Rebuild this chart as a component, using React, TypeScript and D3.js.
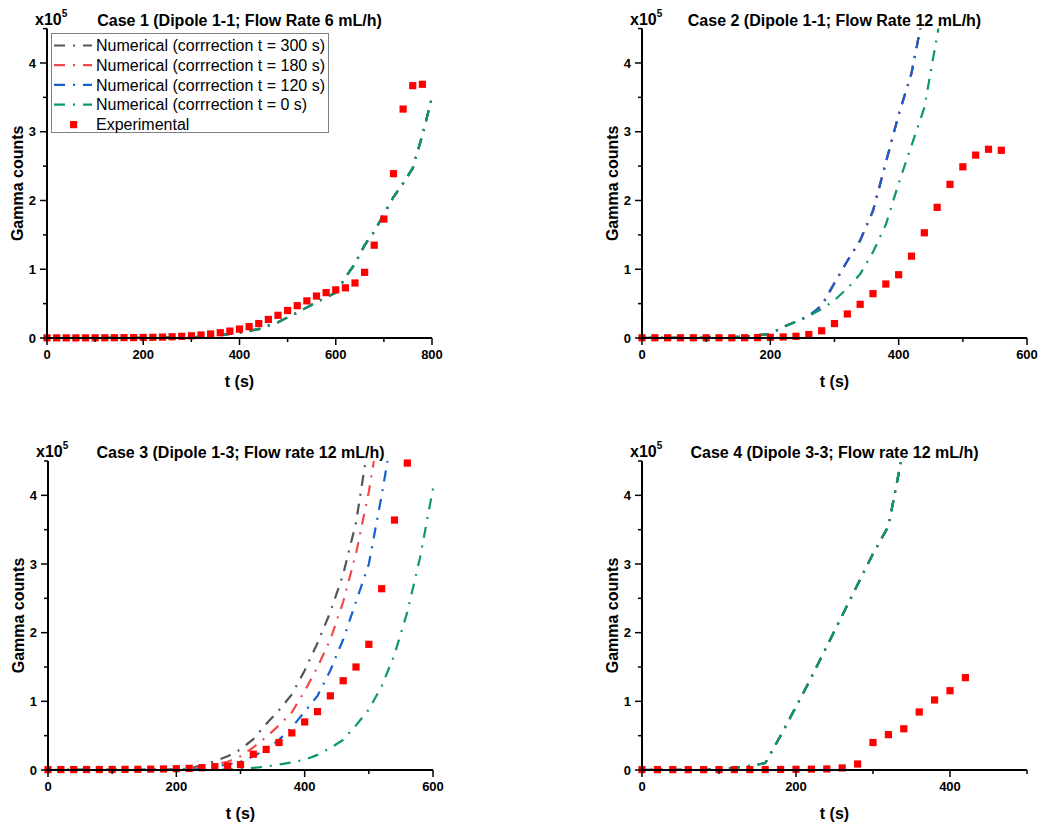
import * as d3 from 'd3';

// ---- data (counts in units of 1e5) ----
const legendLabels = [
  'Numerical (corrrection t = 300 s)',
  'Numerical (corrrection t = 180 s)',
  'Numerical (corrrection t = 120 s)',
  'Numerical (corrrection t = 0 s)',
];
const lineColors = ['#555555', '#f24a4a', '#1560d0', '#0b9a64'];
const expColor = '#ff0000';

const caseTitles = [
  'Case 1 (Dipole 1-1; Flow Rate 6 mL/h)',
  'Case 2 (Dipole 1-1; Flow Rate 12 mL/h)',
  'Case 3 (Dipole 1-3; Flow rate 12 mL/h)',
  'Case 4 (Dipole 3-3; Flow rate 12 mL/h)',
];

// case 1
const exp1T = [0, 20, 40, 60, 80, 100, 120, 140, 160, 180, 200, 220, 240, 260, 280, 300, 320, 340, 360, 380, 400, 420, 440, 460, 480, 500, 520, 540, 560, 580, 600, 620, 640, 660, 680, 700, 720, 740, 760, 780];
const exp1V = [0.002, 0.002, 0.002, 0.002, 0.002, 0.003, 0.003, 0.004, 0.005, 0.006, 0.008, 0.01, 0.013, 0.018, 0.024, 0.032, 0.044, 0.058, 0.077, 0.1, 0.13, 0.165, 0.21, 0.27, 0.33, 0.4, 0.47, 0.54, 0.61, 0.66, 0.7, 0.73, 0.8, 0.955, 1.35, 1.73, 2.39, 3.33, 3.67, 3.69];
const num1: [number, number][] = [[0, 0], [100, 0], [200, 0.002], [300, 0.008], [360, 0.04], [400, 0.08], [440, 0.13], [480, 0.23], [520, 0.37], [560, 0.52], [600, 0.66], [620, 0.88], [640, 1.08], [660, 1.35], [680, 1.55], [700, 1.8], [720, 2.05], [740, 2.25], [760, 2.47], [780, 2.95], [800, 3.5]];

// case 2
const exp2T = [0, 20, 40, 60, 80, 100, 120, 140, 160, 180, 200, 220, 240, 260, 280, 300, 320, 340, 360, 380, 400, 420, 440, 460, 480, 500, 520, 540, 560];
const exp2V = [0.003, 0.003, 0.003, 0.003, 0.003, 0.003, 0.003, 0.003, 0.004, 0.005, 0.01, 0.015, 0.025, 0.05, 0.105, 0.21, 0.35, 0.49, 0.645, 0.785, 0.92, 1.19, 1.53, 1.9, 2.235, 2.49, 2.66, 2.745, 2.73];
const num2Fast: [number, number][] = [[0, 0], [100, 0.003], [160, 0.02], [180, 0.04], [200, 0.06], [220, 0.16], [240, 0.24], [260, 0.32], [280, 0.47], [300, 0.8], [320, 1.12], [340, 1.42], [360, 1.85], [380, 2.55], [400, 3.25], [420, 3.85], [440, 4.8]];
const num2Zero: [number, number][] = [[0, 0], [100, 0.003], [160, 0.02], [180, 0.04], [200, 0.06], [220, 0.16], [240, 0.24], [260, 0.32], [280, 0.42], [300, 0.55], [320, 0.72], [340, 0.93], [360, 1.25], [380, 1.65], [400, 2.25], [420, 2.8], [440, 3.35], [460, 4.4], [480, 5.5]];

// case 3
const exp3T = [0, 20, 40, 60, 80, 100, 120, 140, 160, 180, 200, 220, 240, 260, 280, 300, 320, 340, 360, 380, 400, 420, 440, 460, 480, 500, 520, 540, 560];
const exp3V = [0.005, 0.006, 0.006, 0.007, 0.007, 0.008, 0.009, 0.01, 0.012, 0.015, 0.019, 0.024, 0.034, 0.049, 0.058, 0.078, 0.23, 0.3, 0.4, 0.54, 0.7, 0.85, 1.08, 1.3, 1.5, 1.83, 2.64, 3.64, 4.47];
const num3_300: [number, number][] = [[0, 0], [200, 0.005], [220, 0.02], [240, 0.07], [260, 0.13], [280, 0.2], [300, 0.3], [320, 0.45], [340, 0.67], [360, 0.87], [380, 1.1], [400, 1.45], [420, 1.85], [440, 2.3], [460, 2.85], [480, 3.6], [500, 4.8]];
const num3_180: [number, number][] = [[0, 0], [200, 0.004], [220, 0.01], [240, 0.04], [260, 0.08], [280, 0.12], [300, 0.2], [320, 0.33], [340, 0.48], [360, 0.65], [380, 0.84], [400, 1.15], [420, 1.5], [440, 1.9], [460, 2.45], [480, 3.15], [500, 4.05], [520, 5.2]];
const num3_120: [number, number][] = [[0, 0], [200, 0.003], [220, 0.005], [240, 0.02], [260, 0.05], [280, 0.08], [300, 0.12], [320, 0.2], [340, 0.3], [360, 0.44], [380, 0.62], [400, 0.85], [420, 1.08], [440, 1.45], [460, 1.9], [480, 2.45], [500, 3.0], [520, 4.0], [540, 5.1]];
const num3_0: [number, number][] = [[0, 0], [260, 0.005], [300, 0.01], [320, 0.03], [340, 0.05], [360, 0.08], [380, 0.11], [400, 0.15], [420, 0.22], [440, 0.32], [460, 0.44], [480, 0.65], [500, 0.88], [520, 1.22], [540, 1.68], [560, 2.3], [580, 3.1], [600, 4.1]];

// case 4
const exp4T = [0, 20, 40, 60, 80, 100, 120, 140, 160, 180, 200, 220, 240, 260, 280, 300, 320, 340, 360, 380, 400, 420];
const exp4V = [0.005, 0.005, 0.005, 0.005, 0.005, 0.006, 0.006, 0.006, 0.007, 0.008, 0.01, 0.012, 0.015, 0.03, 0.087, 0.4, 0.515, 0.6, 0.845, 1.02, 1.155, 1.345];
const num4: [number, number][] = [[0, 0], [100, 0.005], [120, 0.03], [140, 0.06], [160, 0.1], [180, 0.5], [200, 0.92], [220, 1.35], [240, 1.8], [260, 2.25], [280, 2.7], [300, 3.15], [320, 3.55], [340, 4.7]];

const yMajor = [0, 1, 2, 3, 4];
const yMinor = [0.5, 1.5, 2.5, 3.5, 4.5];

type PanelProps = {
  id: string;
  title: string;
  left: number; right: number; bottom: number; top: number;
  xMax: number;
  xMajor: number[]; xMinor: number[];
  lines: [number, number][][];
  expT: number[]; expV: number[];
  legend?: boolean;
};

const FONT = '"Liberation Sans", Arial, Helvetica, sans-serif';
const DASH = '11,8,2,8';

function Panel(p: PanelProps) {
  const x = d3.scaleLinear().domain([0, p.xMax]).range([p.left, p.right]);
  const y = d3.scaleLinear().domain([0, 4.5]).range([p.bottom, p.top]);
  const line = d3.line<[number, number]>().x(d => x(d[0])).y(d => y(d[1]));
  const midX = (p.left + p.right) / 2;
  const midY = (p.top + p.bottom) / 2;
  return (
    <g fontFamily={FONT}>
      <defs>
        <clipPath id={p.id}>
          <rect x={p.left} y={p.top} width={p.right - p.left + 2} height={p.bottom - p.top} />
        </clipPath>
      </defs>
      <g clipPath={`url(#${p.id})`}>
        {p.lines.map((ln, i) => (
          <path key={i} d={line(ln) || ''} fill="none" stroke={lineColors[i]} strokeWidth={2.2} strokeDasharray={DASH} />
        ))}
      </g>
      {p.expT.map((t, i) => (
        <rect key={i} x={x(t) - 3.6} y={y(p.expV[i]) - 3.6} width={7.2} height={7.2} fill={expColor} />
      ))}
      {/* axes */}
      <line x1={p.left} x2={p.left} y1={p.top} y2={p.bottom + 1} stroke="#000" strokeWidth={2} />
      <line x1={p.left - 1} x2={p.right} y1={p.bottom} y2={p.bottom} stroke="#000" strokeWidth={2} />
      {yMajor.map(v => (
        <g key={'ym' + v}>
          <line x1={p.left - 7} x2={p.left} y1={y(v)} y2={y(v)} stroke="#000" strokeWidth={1.5} />
          <text x={p.left - 11} y={y(v)} dy="0.36em" textAnchor="end" fontSize={13} fontWeight="bold">{v}</text>
        </g>
      ))}
      {yMinor.map(v => (
        <line key={'yn' + v} x1={p.left - 4} x2={p.left} y1={y(v)} y2={y(v)} stroke="#000" strokeWidth={1.5} />
      ))}
      {p.xMajor.map(v => (
        <g key={'xm' + v}>
          <line x1={x(v)} x2={x(v)} y1={p.bottom} y2={p.bottom + 7} stroke="#000" strokeWidth={1.5} />
          <text x={x(v)} y={p.bottom + 21} textAnchor="middle" fontSize={13} fontWeight="bold">{v}</text>
        </g>
      ))}
      {p.xMinor.map(v => (
        <line key={'xn' + v} x1={x(v)} x2={x(v)} y1={p.bottom} y2={p.bottom + 4} stroke="#000" strokeWidth={1.5} />
      ))}
      {/* labels */}
      <text x={p.left - 12} y={p.top - 4} fontSize={16} fontWeight="bold">
        x10<tspan fontSize={10} dy={-8}>5</tspan>
      </text>
      <text x={midX} y={p.top - 3} textAnchor="middle" fontSize={16} fontWeight="bold">{p.title}</text>
      <text transform={`translate(${p.left - 24},${midY}) rotate(-90)`} textAnchor="middle" fontSize={16} fontWeight="bold">Gamma counts</text>
      <text x={midX} y={p.bottom + 49} textAnchor="middle" fontSize={16} fontWeight="bold">t (s)</text>
      {p.legend && (
        <g>
          <rect x={51.5} y={33.5} width={277} height={99} fill="#fff" stroke="#808080" strokeWidth={1} />
          {legendLabels.map((lab, i) => (
            <g key={lab}>
              <line x1={54} x2={92} y1={45.5 + i * 19.7} y2={45.5 + i * 19.7} stroke={lineColors[i]} strokeWidth={2.2} strokeDasharray={DASH} />
              <text x={96} y={45.5 + i * 19.7} dy="0.36em" fontSize={16}>{lab}</text>
            </g>
          ))}
          <rect x={70} y={121} width={7.2} height={7.2} fill={expColor} />
          <text x={96} y={124.5} dy="0.36em" fontSize={16}>Experimental</text>
        </g>
      )}
    </g>
  );
}

export default function App() {
  return (
    <svg width={1038} height={822} style={{ position: 'absolute', left: 0, top: 0, background: '#fff' }}>
      <rect width={1038} height={822} fill="#fff" />
      <Panel id="c1" title={caseTitles[0]} left={47} right={432} bottom={338} top={28.6} xMax={800}
        xMajor={[0, 200, 400, 600, 800]} xMinor={[100, 300, 500, 700]}
        lines={[num1, num1, num1, num1]} expT={exp1T} expV={exp1V} legend />
      <Panel id="c2" title={caseTitles[1]} left={642} right={1027} bottom={338} top={28.6} xMax={600}
        xMajor={[0, 200, 400, 600]} xMinor={[100, 300, 500]}
        lines={[num2Fast, num2Fast, num2Fast, num2Zero]} expT={exp2T} expV={exp2V} />
      <Panel id="c3" title={caseTitles[2]} left={48} right={433} bottom={770} top={461} xMax={600}
        xMajor={[0, 200, 400, 600]} xMinor={[100, 300, 500]}
        lines={[num3_300, num3_180, num3_120, num3_0]} expT={exp3T} expV={exp3V} />
      <Panel id="c4" title={caseTitles[3]} left={642} right={1027} bottom={770} top={461} xMax={500}
        xMajor={[0, 200, 400]} xMinor={[100, 300, 500]}
        lines={[num4, num4, num4, num4]} expT={exp4T} expV={exp4V} />
    </svg>
  );
}
